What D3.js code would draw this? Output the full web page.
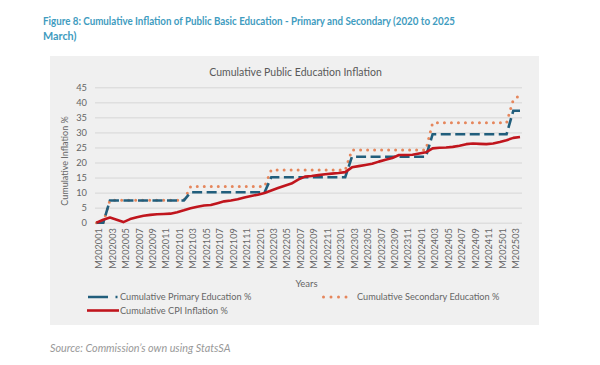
<!DOCTYPE html>
<html><head><meta charset="utf-8">
<script src="https://cdn.jsdelivr.net/npm/d3@7"></script>
<style>
html,body{margin:0;padding:0;background:#fff;}
svg{display:block;}
</style></head>
<body>
<svg id="c" width="600" height="365"></svg>
<script>
const months = ["M202001","M202002","M202003","M202004","M202005","M202006","M202007","M202008","M202009","M202010","M202011","M202012",
"M202101","M202102","M202103","M202104","M202105","M202106","M202107","M202108","M202109","M202110","M202111","M202112",
"M202201","M202202","M202203","M202204","M202205","M202206","M202207","M202208","M202209","M202210","M202211","M202212",
"M202301","M202302","M202303","M202304","M202305","M202306","M202307","M202308","M202309","M202310","M202311","M202312",
"M202401","M202402","M202403","M202404","M202405","M202406","M202407","M202408","M202409","M202410","M202411","M202412",
"M202501","M202502","M202503","M202504"];
const tickLabels = ["M202001","M202003","M202005","M202007","M202009","M202011","M202101","M202103","M202105","M202107","M202109","M202111",
"M202201","M202203","M202205","M202207","M202209","M202211","M202301","M202303","M202305","M202307","M202309","M202311",
"M202401","M202403","M202405","M202407","M202409","M202411","M202501","M202503"];
const yTicks = [0,5,10,15,20,25,30,35,40,45];
const primary = [0,0,
7.4,7.4,7.4,7.4,7.4,7.4,7.4,7.4,7.4,7.4,7.4,7.4,
10.1,10.1,10.1,10.1,10.1,10.1,10.1,10.1,10.1,10.1,10.1,10.1,
15.1,15.1,15.1,15.1,15.1,15.1,15.1,15.1,15.1,15.1,15.1,15.1,
21.9,21.9,21.9,21.9,21.9,21.9,21.9,21.9,21.9,21.9,21.9,21.9,
29.4,29.4,29.4,29.4,29.4,29.4,29.4,29.4,29.4,29.4,29.4,29.4,
37.2,37.2];
const secondary = [0,0,
7.5,7.5,7.5,7.5,7.5,7.5,7.5,7.5,7.5,7.5,7.5,7.5,
12.0,12.0,12.0,12.0,12.0,12.0,12.0,12.0,12.0,12.0,12.0,12.0,
17.5,17.5,17.5,17.5,17.5,17.5,17.5,17.5,17.5,17.5,17.5,17.5,
24.2,24.2,24.2,24.2,24.2,24.2,24.2,24.2,24.2,24.2,24.2,24.2,
33.2,33.2,33.2,33.2,33.2,33.2,33.2,33.2,33.2,33.2,33.2,33.2,
40.8,42.4];
const cpi = [0,1.0,1.7,1.0,0.2,1.2,1.8,2.3,2.6,2.8,
2.9,3.0,3.5,4.1,4.8,5.3,5.7,5.9,6.5,7.1,
7.4,7.8,8.4,8.9,9.3,9.9,10.7,11.5,12.3,13.0,
14.3,15.3,15.5,15.8,16.1,16.3,16.5,16.8,18.4,18.8,
19.2,19.6,20.3,20.9,21.5,22.5,22.5,22.6,23.0,23.4,
24.7,24.9,25.0,25.2,25.6,26.1,26.3,26.2,26.1,26.3,
26.8,27.4,28.2,28.5];
const seriesNames = ["Cumulative Primary Education %","Cumulative Secondary Education %","Cumulative CPI Inflation %"];

const svg = d3.select("#c");
const font = "Lato, 'Liberation Sans', sans-serif";
const grey = "#666666";

// Figure title
svg.append("text").attr("x",43).attr("y",25).attr("font-family",font).attr("font-weight","bold")
  .attr("font-size",10.8).attr("fill","#3f9cc0").attr("textLength",412).attr("lengthAdjust","spacingAndGlyphs")
  .text("Figure 8: Cumulative Inflation of Public Basic Education - Primary and Secondary (2020 to 2025");
svg.append("text").attr("x",43).attr("y",40).attr("font-family",font).attr("font-weight","bold")
  .attr("font-size",10.8).attr("fill","#3f9cc0").text("March)");

// Panel
svg.append("rect").attr("x",50).attr("y",56).attr("width",489).attr("height",269).attr("fill","#f0f0f0");

svg.append("text").attr("x",295.5).attr("y",75.5).attr("text-anchor","middle").attr("font-family",font)
  .attr("font-size",10.5).attr("fill","#595959").text("Cumulative Public Education Inflation");

const x = d3.scalePoint().domain(months).range([96.5,520]);
const y = d3.scaleLinear().domain([0,45]).range([222.7,87.3]);

// gridlines + y axis
const yAxis = d3.axisLeft(y).tickValues(yTicks).tickSize(-(522-95)).tickPadding(8);
const gy = svg.append("g").attr("transform","translate(95,0)").call(yAxis);
gy.select(".domain").remove();
gy.selectAll(".tick line").attr("stroke","#d6d6d6").attr("stroke-width",1);
gy.selectAll(".tick text").attr("font-family",font).attr("font-size",9.3).attr("fill",grey);

svg.append("text").attr("transform","translate(68,161) rotate(-90)").attr("text-anchor","middle")
  .attr("font-family",font).attr("font-size",9).attr("fill",grey).text("Cumulative Inflation %");

// x axis
const xAxis = d3.axisBottom(x).tickValues(tickLabels).tickSize(0).tickPadding(0);
const gx = svg.append("g").attr("transform","translate(0,222.7)").call(xAxis);
gx.select(".domain").remove();
gx.selectAll(".tick text").attr("font-family",font).attr("font-size",9.2).attr("fill",grey)
  .attr("text-anchor","end").attr("transform","translate(2,5.5) rotate(-90)").attr("x",0).attr("y",0).attr("dy","0.35em");

svg.append("text").attr("x",306.5).attr("y",287).attr("text-anchor","middle").attr("font-family",font)
  .attr("font-size",9.5).attr("fill",grey).text("Years");

// lines
const line = d3.line().x((d,i)=>x(months[i])).y(d=>y(d));
svg.append("path").datum(secondary).attr("d",line).attr("fill","none").attr("stroke","#e5865c")
  .attr("stroke-width",3).attr("stroke-linecap","round").attr("stroke-dasharray","0,7");
svg.append("path").datum(primary).attr("d",line).attr("fill","none").attr("stroke","#215e7c")
  .attr("stroke-width",2.6).attr("stroke-dasharray","10,4.5");
svg.append("path").datum(cpi).attr("d",line).attr("fill","none").attr("stroke","#c0151d")
  .attr("stroke-width",2.6).attr("stroke-linejoin","round");

// legend
const lg = svg.append("g");
lg.append("line").attr("x1",88).attr("x2",118).attr("y1",297).attr("y2",297).attr("stroke","#215e7c")
  .attr("stroke-width",2.6).attr("stroke-dasharray","20,7.5,2,20");
lg.append("text").attr("x",120).attr("y",300.2).attr("font-family",font).attr("font-size",9.2).attr("fill",grey).text(seriesNames[0]);
lg.append("line").attr("x1",323.5).attr("x2",353.5).attr("y1",297).attr("y2",297).attr("stroke","#e5865c")
  .attr("stroke-width",3).attr("stroke-linecap","round").attr("stroke-dasharray","0,7.5");
lg.append("text").attr("x",357).attr("y",300.2).attr("font-family",font).attr("font-size",9.2).attr("fill",grey).text(seriesNames[1]);
lg.append("line").attr("x1",87).attr("x2",119).attr("y1",310.5).attr("y2",310.5).attr("stroke","#c0151d")
  .attr("stroke-width",2.6);
lg.append("text").attr("x",120).attr("y",313.7).attr("font-family",font).attr("font-size",9.2).attr("fill",grey).text(seriesNames[2]);

// source
svg.append("text").attr("x",50).attr("y",351.5).attr("font-family",font).attr("font-style","italic")
  .attr("font-size",10.8).attr("fill","#999999").text("Source: Commission\u2019s own using StatsSA");
</script>
</body></html>
